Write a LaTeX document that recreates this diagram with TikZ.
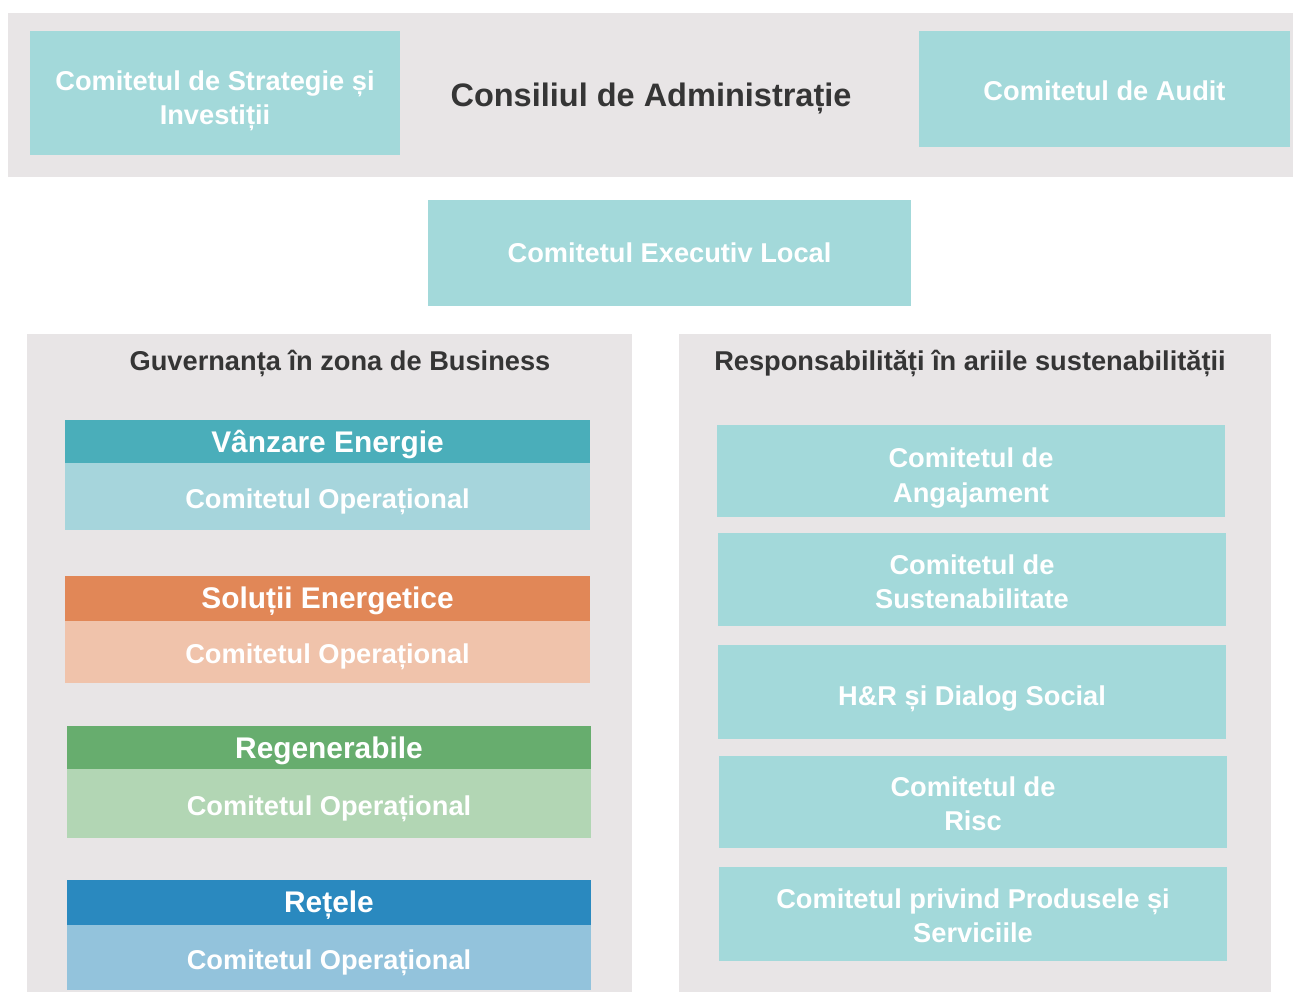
\documentclass[tikz,border=0pt]{standalone}
\usepackage{fontspec}
\setmainfont{Liberation Sans}
\definecolor{bandgrey}{HTML}{E8E5E6}
\definecolor{boxteal}{HTML}{A3D9DA}
\definecolor{darktext}{HTML}{353535}
\definecolor{salesdark}{HTML}{4AAEBA}
\definecolor{saleslight}{HTML}{A6D5DC}
\definecolor{soldark}{HTML}{E18757}
\definecolor{sollight}{HTML}{F0C3AB}
\definecolor{rendark}{HTML}{67AD6E}
\definecolor{renlight}{HTML}{B2D6B4}
\definecolor{netdark}{HTML}{2A89BF}
\definecolor{netlight}{HTML}{93C3DC}
\tikzset{
  boxtext/.style={text=white, font=\bfseries\fontsize{15.5}{19.5}\selectfont, align=center, inner sep=0pt},
  unittext/.style={text=white, font=\bfseries\fontsize{17}{20}\selectfont, inner sep=0pt},
  headtext/.style={text=darktext, font=\bfseries\fontsize{15.5}{19}\selectfont, inner sep=0pt},
  titletext/.style={text=darktext, font=\bfseries\fontsize{18.5}{22}\selectfont, inner sep=0pt}
}
% box with centred white text: [text offset], name, x1, y1, x2, y2, fill, text
\newcommand{\cbox}[8][2]
{   \fill[#7] (#3,#4) rectangle (#5,#6);
    \node[boxtext] (#2) at ({(#3+#5)/2},{(#4+#6)/2+#1}) {#8};
}
% business unit: name, x1, x2, y top, y split, y bottom, dark, light, title
\newcommand{\bizunit}[9]
{   \fill[#7] (#2,#4) rectangle (#3,#5);
    \fill[#8] (#2,#5) rectangle (#3,#6);
    \node[unittext] (#1head) at ({(#2+#3)/2},{(#4+#5)/2+3}) {#9};
    \node[boxtext] (#1body) at ({(#2+#3)/2},{(#5+#6)/2+5}) {Comitetul Operațional};
}

\begin{document}
\begin{tikzpicture}[x=0.02cm,y=-0.02cm]
 \useasboundingbox (0,0) rectangle (1293,992);
 \fill[white] (0,0) rectangle (1293,992);

 % board
 \fill[bandgrey] (8,13) rectangle (1293,177);
 \cbox[8]{strat}{30}{31}{400}{155}{boxteal}{Comitetul de Strategie și\\Investiții}
 \node[titletext] (board) at (651,98) {Consiliul de Administrație};
 \cbox{audit}{919}{31}{1290}{147}{boxteal}{Comitetul de Audit}
 \cbox[0]{exec}{428}{200}{911}{306}{boxteal}{Comitetul Executiv Local}

 % panels
 \fill[bandgrey] (27,334) rectangle (632,992);
 \fill[bandgrey] (679,334) rectangle (1271,992);
 \node[headtext] (bizhead) at (340,363) {Guvernanța în zona de Business};
 \node[headtext] (sushead) at (970,363) {Responsabilități în ariile sustenabilității};

 \bizunit{sales}{65}{590}{420}{463}{530}{salesdark}{saleslight}{Vânzare Energie}
 \bizunit{sol}{65}{590}{576}{621}{683}{soldark}{sollight}{Soluții Energetice}
 \bizunit{ren}{67}{591}{726}{769}{838}{rendark}{renlight}{Regenerabile}
 \bizunit{net}{67}{591}{880}{925}{990}{netdark}{netlight}{Rețele}

 \cbox[7]{angaj}{717}{425}{1225}{517}{boxteal}{Comitetul de\\Angajament}
 \cbox{sust}{718}{533}{1226}{626}{boxteal}{Comitetul de\\Sustenabilitate}
 \cbox[7]{hr}{718}{645}{1226}{739}{boxteal}{H\&R și Dialog Social}
 \cbox{risc}{719}{756}{1227}{848}{boxteal}{Comitetul de\\Risc}
 \cbox{prod}{719}{867}{1227}{961}{boxteal}{Comitetul privind Produsele și\\Serviciile}

\end{tikzpicture}
\end{document}
